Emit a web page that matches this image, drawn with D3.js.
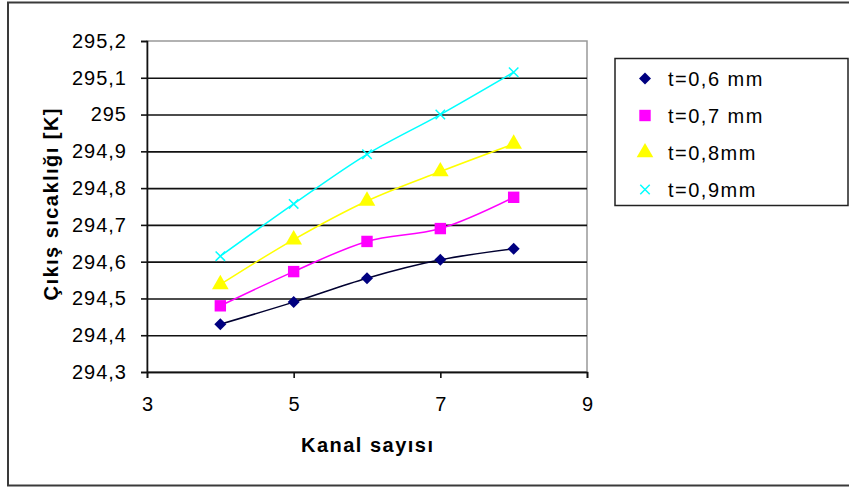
<!DOCTYPE html>
<html>
<head>
<meta charset="utf-8">
<script src="https://cdn.jsdelivr.net/npm/d3@7"></script>
<style>
  body { margin: 0; background: #fff; }
  text { font-family: "Liberation Sans", Arial, sans-serif; }
</style>
</head>
<body>
<div id="chart"></div>
<script>
// data
var kanal = [4, 5, 6, 7, 8];
var t06 = [294.43, 294.49, 294.555, 294.605, 294.635];
var t07 = [294.48, 294.573, 294.655, 294.69, 294.775];
var t08 = [294.538, 294.66, 294.765, 294.845, 294.92];
var t09 = [294.615, 294.757, 294.892, 295.0, 295.115];
var seriesNames = ["t=0,6 mm", "t=0,7 mm", "t=0,8mm", "t=0,9mm"];
var xTicks = [3, 5, 7, 9];
var yTicks = [294.3, 294.4, 294.5, 294.6, 294.7, 294.8, 294.9, 295.0, 295.1, 295.2];
var yTickLabels = ["294,3", "294,4", "294,5", "294,6", "294,7", "294,8", "294,9", "295", "295,1", "295,2"];

var svgWidth = 849;
var svgHeight = 489;

var margin = { top: 41, left: 147, right: 262, bottom: 117 };
var width = svgWidth - margin.left - margin.right;
var height = svgHeight - margin.top - margin.bottom;

var svg = d3.select("#chart")
    .append("svg")
    .attr("width", svgWidth)
    .attr("height", svgHeight);

// outer chart border (right side runs off the picture)
svg.append("rect")
    .attr("x", 8).attr("y", 2.5)
    .attr("width", 880).attr("height", 483)
    .attr("fill", "none")
    .attr("stroke", "#3a3a3a")
    .attr("stroke-width", 2);

var g = svg.append("g")
    .attr("transform", `translate(${margin.left}, ${margin.top})`);

var x = d3.scaleLinear().domain([3, 9]).range([0, width]);
var y = d3.scaleLinear().domain([294.3, 295.2]).range([height, 0]);

// plot area frame (grey top and right)
g.append("rect")
    .attr("x", 0).attr("y", 0)
    .attr("width", width).attr("height", height)
    .attr("fill", "none")
    .attr("stroke", "#999")
    .attr("stroke-width", 1.5);

// gridlines
var grid = g.append("g")
    .call(d3.axisLeft(y).tickValues(yTicks.slice(0, -1)).tickSize(-width).tickFormat(""));
grid.select(".domain").remove();
grid.selectAll("line").attr("stroke", "#111").attr("stroke-width", 1.6);

// y axis
var yAxis = g.append("g")
    .call(d3.axisLeft(y).tickValues(yTicks).tickSize(6).tickPadding(14)
        .tickFormat((d, i) => yTickLabels[i]));
yAxis.select(".domain").attr("stroke", "#111").attr("stroke-width", 1.6);
yAxis.selectAll("line").attr("stroke", "#111").attr("stroke-width", 1.6);
yAxis.selectAll("text")
    .attr("font-size", 20)
    .attr("letter-spacing", 1)
    .attr("fill", "#000")
    .style("font-family", "Liberation Sans, Arial, sans-serif");

// x axis
var xAxis = g.append("g")
    .attr("transform", `translate(0, ${height})`)
    .call(d3.axisBottom(x).tickValues(xTicks).tickSize(6).tickFormat(d3.format("d")));
xAxis.select(".domain").attr("stroke", "#111").attr("stroke-width", 1.6);
xAxis.selectAll("line").attr("stroke", "#111").attr("stroke-width", 1.6);
xAxis.selectAll("text")
    .attr("y", 25)
    .attr("font-size", 20)
    .attr("fill", "#000")
    .style("font-family", "Liberation Sans, Arial, sans-serif");

// series
var allSeries = [t06, t07, t08, t09];
var lineColors = ["#000030", "#ff00ff", "#ffff00", "#00ffff"];
var markerColors = ["#000080", "#ff00ff", "#ffff00", "#00ffff"];
var markerTypes = [d3.symbolSquare, d3.symbolSquare, d3.symbolTriangle, d3.symbolTimes];
var markerSizes = [72, 130, 120, 60];
var markerRotate = [45, 0, 0, 0];

var line = d3.line()
    .x((d, i) => x(kanal[i]))
    .y(d => y(d))
    .curve(d3.curveCatmullRom.alpha(0.5));

allSeries.forEach(function (vals, s) {
    g.append("path")
        .datum(vals)
        .attr("d", line)
        .attr("fill", "none")
        .attr("stroke", lineColors[s])
        .attr("stroke-width", 1.5);

    var sym = d3.symbol().type(markerTypes[s]).size(markerSizes[s]);
    var pts = g.append("g").selectAll("path")
        .data(vals)
        .enter()
        .append("path")
        .attr("d", sym)
        .attr("transform", (d, i) => `translate(${x(kanal[i])}, ${y(d)}) rotate(${markerRotate[s]})`);
    if (markerTypes[s] === d3.symbolTimes) {
        pts.attr("fill", "none").attr("stroke", markerColors[s]).attr("stroke-width", 1.5);
    } else {
        pts.attr("fill", markerColors[s]);
    }
});

// axis titles
g.append("text")
    .attr("x", width / 2)
    .attr("y", height + 80)
    .attr("text-anchor", "middle")
    .attr("font-size", 20)
    .attr("font-weight", "bold")
    .attr("textLength", 132)
    .attr("lengthAdjust", "spacing")
    .attr("fill", "#000")
    .text("Kanal sayısı");

g.append("text")
    .attr("transform", `translate(${51 - margin.left + 7}, ${height / 2 - 2}) rotate(-90)`)
    .attr("text-anchor", "middle")
    .attr("font-size", 20)
    .attr("font-weight", "bold")
    .attr("textLength", 192)
    .attr("lengthAdjust", "spacing")
    .attr("fill", "#000")
    .text("Çıkış sıcaklığı [K]");

// legend
var legend = svg.append("g").attr("transform", "translate(615, 58.5)");
legend.append("rect")
    .attr("width", 233).attr("height", 147)
    .attr("fill", "#fff")
    .attr("stroke", "#222")
    .attr("stroke-width", 1.5);

seriesNames.forEach(function (name, s) {
    var cy = 20 + s * 37;
    var sym = d3.symbol().type(markerTypes[s]).size(markerSizes[s]);
    var m = legend.append("path")
        .attr("d", sym)
        .attr("transform", `translate(30, ${cy}) rotate(${markerRotate[s]})`);
    if (markerTypes[s] === d3.symbolTimes) {
        m.attr("fill", "none").attr("stroke", markerColors[s]).attr("stroke-width", 1.5);
    } else {
        m.attr("fill", markerColors[s]);
    }
    legend.append("text")
        .attr("x", 53)
        .attr("y", cy + 7)
        .attr("font-size", 20)
        .attr("letter-spacing", 1.5)
        .attr("fill", "#000")
        .text(name);
});
</script>
</body>
</html>
